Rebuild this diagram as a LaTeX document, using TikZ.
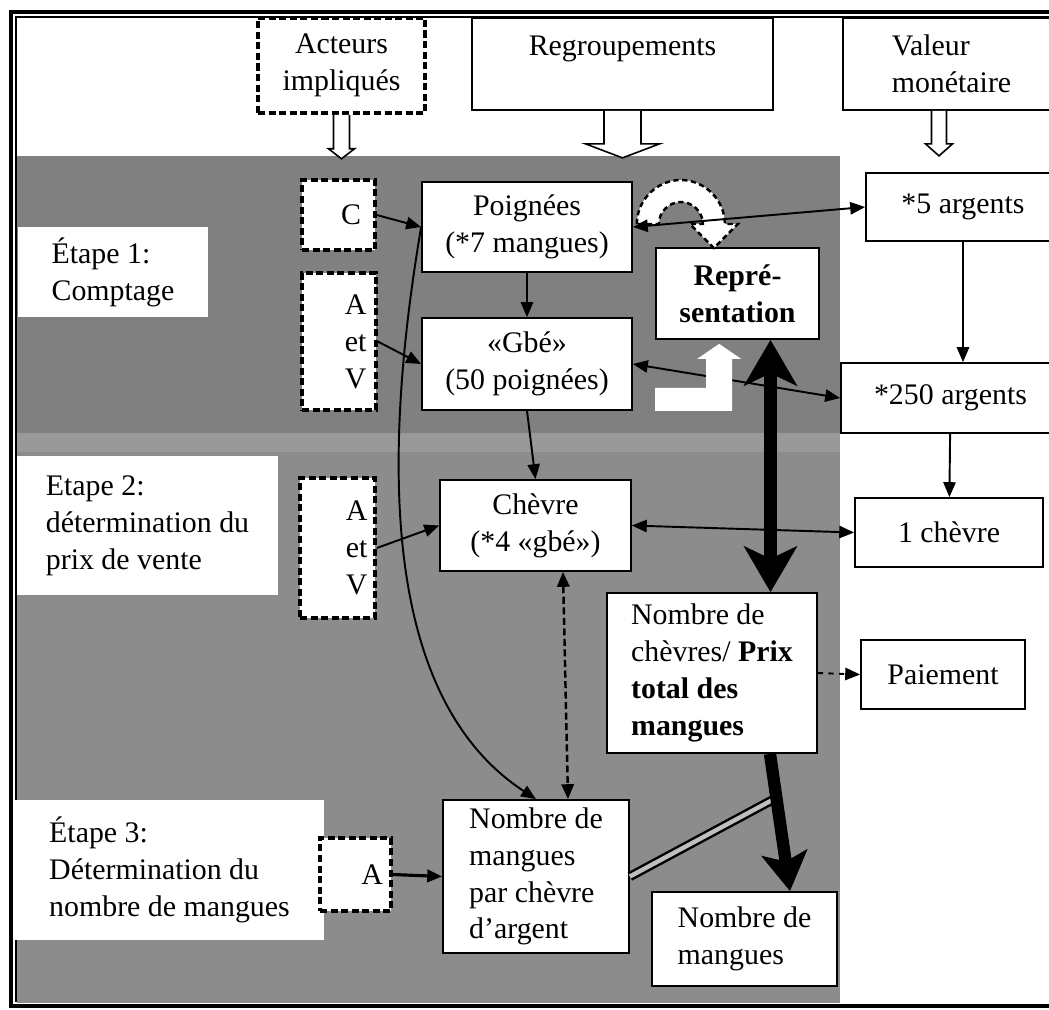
\documentclass[tikz,border=0pt]{standalone}
\usepackage{fontspec}
\setmainfont{Liberation Serif}
\usetikzlibrary{arrows.meta,positioning,calc}

\definecolor{bandtop}{gray}{0.50}
\definecolor{bandmid}{gray}{0.60}
\definecolor{bandlow}{gray}{0.55}

% hollow block arrow pointing down, hung under an anchor
\newcommand{\hollowdown}[5]{%
  \draw[line width=0.9pt, fill=white, shift={(#1)}]
    (-#2,0) -- (-#2,#4) -- (-#3,#4) -- (0,#5) -- (#3,#4) -- (#2,#4) -- (#2,0);}

\begin{document}
\begin{tikzpicture}[
  x=0.02cm, y=-0.02cm,
  font=\fontsize{17}{21}\selectfont,
  box/.style={draw, fill=white, line width=1pt, align=center, inner sep=2pt},
  actor/.style={box, line width=2pt, dash pattern=on 4pt off 2pt},
  stage/.style={fill=white, align=left, inner sep=2pt},
  arr/.style={-{Triangle[length=8.5pt,width=7pt]}, line width=1.1pt},
  darr/.style={{Triangle[length=8.5pt,width=7pt]}-{Triangle[length=8.5pt,width=7pt]}, line width=1.1pt},
  heavy/.style={line width=7pt, {Stealth[length=26pt,width=30pt,inset=7pt]}-{Stealth[length=26pt,width=30pt,inset=7pt]}}
]
\useasboundingbox (0,0) rectangle (1049,1009);

% grey bands and frame
\fill[bandtop] (17,156) rectangle (840,433);
\fill[bandmid] (17,433) rectangle (840,452);
\fill[bandlow] (17,452) rectangle (840,1003);
\draw[line width=2pt] (1070,12) -| (11,1006) -- (1070,1006);
\draw[line width=0.6pt] (1070,17) -| (16,1002);

% headers
\node[actor, minimum width=3.34cm, minimum height=1.9cm] (act) at (341.5,65.5) {Acteurs\\impliqués};
\node[box, minimum width=6.02cm, minimum height=1.84cm] (reg) at (622.5,64) {Regroupements\\\phantom{R}};
\node[box, minimum width=4.34cm, minimum height=1.84cm, align=left] (val) at (951.5,64) {Valeur\\monétaire};
\hollowdown{act.south}{8}{13}{34}{44}
\hollowdown{reg.south}{18.5}{37}{33}{47}
\hollowdown{[xshift=-0.25cm]val.south}{7.5}{13.5}{33}{45}

% stages
\node[stage, minimum width=3.8cm, minimum height=1.8cm] (e1) at (113,272) {Étape 1:\\Comptage};
\node[stage, minimum width=5.22cm, minimum height=2.78cm] (e2) at (147.5,525.5) {Etape 2:\\détermination du\\prix de vente};
\node[stage, minimum width=6.18cm, minimum height=2.8cm] (e3) at (169.5,870) {Étape 3:\\Détermination du\\nombre de mangues};

% actors
\node[actor, minimum width=1.46cm, minimum height=1.4cm, text width=0.9cm, align=right] (c) at (338.5,215) {C};
\node[actor, minimum width=1.48cm, minimum height=2.74cm, text width=1.1cm, align=right] (av1) at (339,341.5) {A\\et\\V};
\node[actor, minimum width=1.5cm, minimum height=2.8cm, text width=1.2cm, align=right] (av2) at (337.5,548) {A\\et\\V};
\node[actor, minimum width=1.42cm, minimum height=1.46cm, text width=1.1cm, align=right] (aa) at (355.5,874.5) {A};

% groupings
\node[box, minimum width=4.2cm, minimum height=1.8cm] (pg) at (527,227) {Poignées\\(*7 mangues)};
\node[box, minimum width=4.2cm, minimum height=1.84cm] (gbe) at (527,364) {«Gbé»\\(50 poignées)};
\node[box, minimum width=3.82cm, minimum height=1.82cm] (chv) at (535.5,525.5) {Chèvre\\(*4 «gbé»)};
\node[box, minimum width=3.26cm, minimum height=1.82cm, font=\fontsize{17}{21}\selectfont\bfseries] (rep) at (737.5,293.5) {Repré-\\sentation};
\node[box, minimum width=4.2cm, minimum height=3.2cm, align=left] (npc) at (712,673) {Nombre de\\chèvres/ \textbf{Prix}\\\textbf{total des}\\\textbf{mangues}};
\node[box, minimum width=3.72cm, minimum height=3.06cm, align=left] (mpc) at (536,876.5) {Nombre de\\mangues\\par chèvre\\d’argent};
\node[box, minimum width=3.7cm, minimum height=1.88cm, align=left] (nm) at (744.5,939) {Nombre de\\mangues};

% money values
\node[box, minimum width=3.88cm, minimum height=1.36cm] (a5) at (963,207) {*5 argents};
\node[box, minimum width=4.38cm, minimum height=1.4cm] (a250) at (950.5,398) {*250 argents};
\node[box, minimum width=3.76cm, minimum height=1.38cm] (ch1) at (949,532.5) {1 chèvre};
\node[box, minimum width=3.28cm, minimum height=1.38cm] (pay) at (943,674.5) {Paiement};

% curved white arrow over the representation box
\draw[fill=white, line width=1.4pt, dash pattern=on 3pt off 2pt, shift={(pg.east)}]
  (4,-3) .. controls (4,-27) and (24,-47) .. (48,-47)
  .. controls (72,-47) and (92,-27) .. (92,-3) -- (105,-3) -- (81,21) -- (57,-3) -- (70,-3)
  .. controls (70,-15) and (60,-25) .. (48,-25)
  .. controls (36,-25) and (26,-15) .. (26,-3) -- cycle;

% connectors
\draw[arr] (c.east) -- (pg.west);
\draw[arr] (av1.east) -- (gbe.west);
\draw[arr] (av2.east) -- (chv.west);
\draw[arr, line width=1.8pt] (aa.east) -- (mpc.west);
\draw[arr] (pg) -- (gbe);
\draw[arr] (gbe.south) -- (chv.north);
\draw[arr] (a5.south) -- (a5.south |- a250.north);
\draw[arr] (a250) -- (ch1);
\draw[darr] (pg.east) -- (a5.west);
\draw[darr] (gbe.east) -- (a250.west);
\draw[darr] (chv.east) -- (ch1.west);
\draw[arr, dashed] (npc.east) -- (pay.west);
\draw[darr, line width=1.4pt, dash pattern=on 4pt off 2pt] ([xshift=0.55cm]chv.south) -- ([xshift=0.64cm]mpc.north);
\draw[arr] (pg.west) .. controls (380,470) and (385,700) .. (mpc.north);

% white bent arrow under the representation box
\fill[white, shift={(rep.south west)}]
  (0,48) -- (51,48) -- (51,19) -- (42,19) -- (64,4) -- (86,19) -- (77,19) -- (77,71) -- (0,71) -- cycle;

% heavy arrows
\coordinate (repfoot) at ([xshift=0.66cm]rep.south);
\coordinate (npctop) at (repfoot |- npc.north);
\draw[heavy] (repfoot) -- (npctop);
\coordinate (npcfoot) at ([xshift=1.16cm]npc.south);
\coordinate (nmtop) at ([xshift=0.91cm]nm.north);
\coordinate (joint) at ($(npcfoot)!0.32!(nmtop)$);
\draw[line width=1.4pt, double=black!25, double distance=2.5pt] (mpc.east) -- (joint);
\draw[line width=7pt, -{Stealth[length=22pt,width=26pt,inset=5pt]}] (npcfoot) -- (nmtop);
\end{tikzpicture}
\end{document}
